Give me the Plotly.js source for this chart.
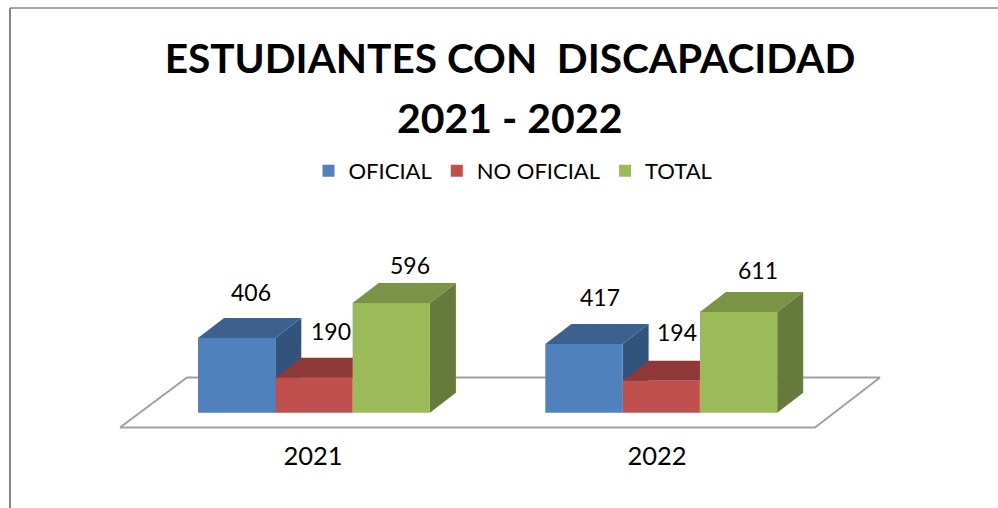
<!DOCTYPE html>
<html><head><meta charset="utf-8">
<script src="https://cdn.plot.ly/plotly-3.0.1.min.js"></script>
<style>html,body{margin:0;padding:0;background:#fff;overflow:hidden}</style></head>
<body><div id="chart" style="width:998px;height:508px"></div>
<script>
const years = ['2021', '2022'];
const seriesNames = ['OFICIAL', 'NO OFICIAL', 'TOTAL'];
const oficial = [406, 417];
const noOficial = [190, 194];
const total = [596, 611];

const seriesValues = [oficial, noOficial, total];
const frontColors = ['#4F81BD', '#C0504D', '#9BBB59'];
const topColors = ['#3D618F', '#8E3937', '#7A9346'];
const sideColors = ['#32537B', '#7A3130', '#667B3B'];

// layout geometry (pixels)
const W = 998, H = 508, plotBottom = 430, baseline = 412.7;
const groupLeft = [198, 545.3], barW = 77.3, depthX = 26, depthY = 20;
const pxPerUnit = [0.184, 0.165];           // the picture's 3D view draws each group on its own scale
const floorPts = {x: [120, 187, 880, 815, 120], py: [427.5, 377.5, 377.5, 427.5, 427.5]};
const labelDx = [[14, 17, 19], [16, 16, 19]];
const labelDy = [[46, 47, 38], [47, 49, 42]];
const tickPos = [313, 657];

const traces = [];
const annotations = [];
const yAxes = {};
function axisName(n) { return n === 1 ? 'y' : 'y' + n; }
function layoutName(n) { return n === 1 ? 'yaxis' : 'yaxis' + n; }

years.forEach((yr, g) => {
  const s = pxPerUnit[g];
  const polyAxis = 2 * g + 1, barAxis = 2 * g + 2;
  [polyAxis, barAxis].forEach(n => {
    yAxes[layoutName(n)] = {
      domain: [0, 1], range: [-(plotBottom - baseline) / s, baseline / s], fixedrange: true,
      visible: false, showgrid: false, zeroline: false
    };
    if (n > 1) { yAxes[layoutName(n)].overlaying = 'y'; }
  });
  if (g === 0) {
    traces.push({
      type: 'scatter', mode: 'lines', x: floorPts.x,
      y: floorPts.py.map(p => (baseline - p) / s), yaxis: 'y',
      line: {color: '#A0A0A0', width: 2}, showlegend: false, hoverinfo: 'skip'
    });
  }
  const dv = depthY / s;
  seriesValues.forEach((vals, i) => {
    const v = vals[g];
    const x0 = groupLeft[g] + i * barW, x1 = x0 + barW;
    traces.push({
      type: 'scatter', mode: 'lines', fill: 'toself', fillcolor: sideColors[i],
      x: [x1, x1 + depthX, x1 + depthX, x1, x1], y: [0, dv, v + dv, v, 0],
      yaxis: axisName(polyAxis), line: {width: 0}, showlegend: false, hoverinfo: 'skip'
    });
    traces.push({
      type: 'scatter', mode: 'lines', fill: 'toself', fillcolor: topColors[i],
      x: [x0, x0 + depthX, x1 + depthX, x1, x0], y: [v, v + dv, v + dv, v, v],
      yaxis: axisName(polyAxis), line: {width: 0}, showlegend: false, hoverinfo: 'skip'
    });
    annotations.push({
      xref: 'x', yref: axisName(barAxis), x: x0 + barW / 2 + labelDx[g][i], y: v,
      yshift: labelDy[g][i], text: String(v), showarrow: false,
      font: {family: 'Lato', size: 23, color: '#000'}
    });
  });
  seriesValues.forEach((vals, i) => {
    traces.push({
      type: 'bar', name: seriesNames[i], legendgroup: seriesNames[i], showlegend: g === 0,
      x: [groupLeft[g] + (i + 0.5) * barW], y: [vals[g]], width: barW,
      yaxis: axisName(barAxis), marker: {color: frontColors[i], line: {width: 0}}
    });
  });
});

annotations.push({
  xref: 'paper', yref: 'paper', x: 510 / W, y: 1 - 118 / plotBottom, xanchor: 'center', yanchor: 'middle',
  text: '2021 - 2022', showarrow: false, font: {family: 'Lato', size: 41, weight: 700, color: '#000'}
});

const layout = Object.assign({
  width: W, height: H, margin: {l: 0, r: 0, t: 0, b: H - plotBottom, pad: 0},
  paper_bgcolor: '#fff', plot_bgcolor: 'rgba(0,0,0,0)', barmode: 'overlay',
  font: {family: 'Lato', color: '#000'},
  title: {text: 'ESTUDIANTES CON\u00A0\u00A0DISCAPACIDAD', x: 510 / W, xanchor: 'center',
          y: 1 - 59 / H, yanchor: 'middle', font: {family: 'Lato', size: 40.6, weight: 700, color: '#000'}},
  xaxis: {range: [0, W], fixedrange: true, showgrid: false, zeroline: false, showline: false, ticks: '',
          ticklabelstandoff: 8, tickmode: 'array', tickvals: tickPos, ticktext: years,
          tickfont: {family: 'Lato', size: 25.5, color: '#000'}},
  legend: {orientation: 'h', x: 513 / W, xanchor: 'center', y: 1 - 171 / plotBottom, yanchor: 'middle',
           font: {family: 'Lato', size: 22, color: '#000'}, bgcolor: 'rgba(0,0,0,0)'},
  annotations: annotations,
  shapes: [
    {type: 'line', xref: 'paper', yref: 'paper', x0: 10 / W, x1: 1.01, y0: 1 - 8 / plotBottom, y1: 1 - 8 / plotBottom, line: {color: '#868686', width: 1.5}},
    {type: 'line', xref: 'paper', yref: 'paper', x0: 10 / W, x1: 10 / W, y0: 1 - 8 / plotBottom, y1: -0.3, line: {color: '#868686', width: 2}}
  ],
  showlegend: true, hovermode: false
}, yAxes);

Plotly.newPlot('chart', traces, layout, {displayModeBar: false, staticPlot: true});
</script></body></html>
